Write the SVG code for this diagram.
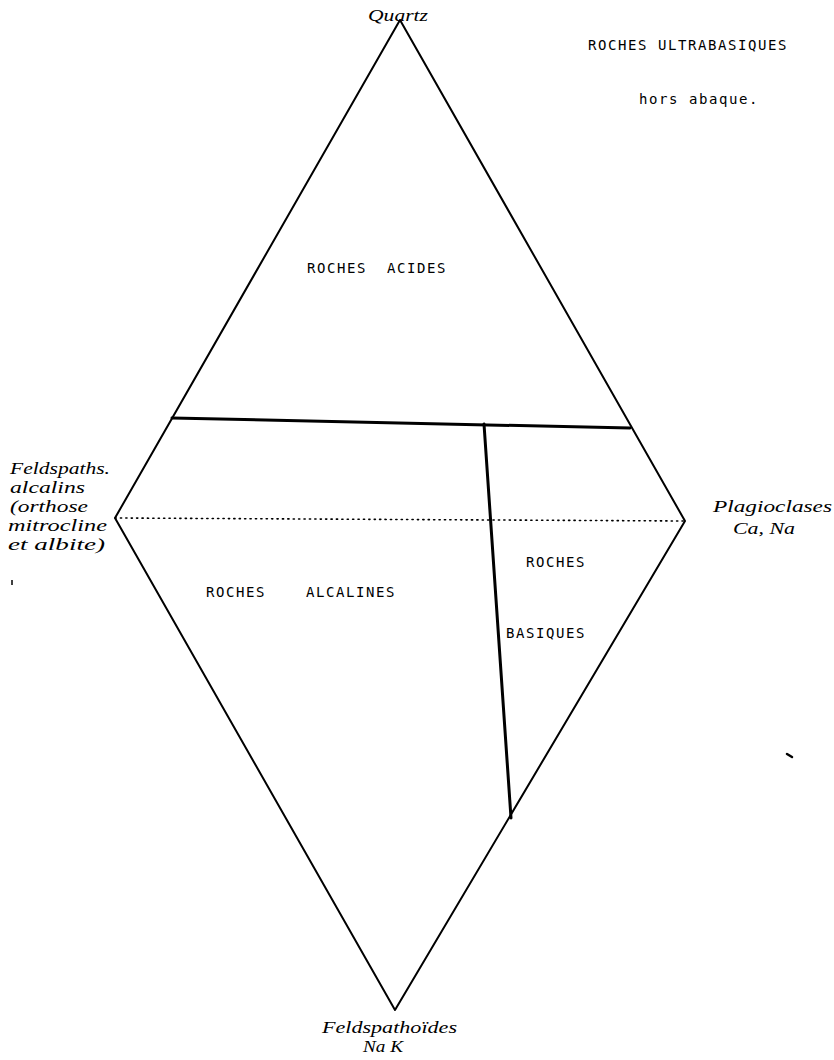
<svg xmlns="http://www.w3.org/2000/svg" width="834" height="1060" viewBox="0 0 834 1060">
<style>
.edge{fill:none;stroke:#000;stroke-width:2;stroke-linecap:round;stroke-linejoin:round}
.div{fill:none;stroke:#000;stroke-width:3;stroke-linecap:round}
.dot{fill:none;stroke:#000;stroke-width:1.6;stroke-dasharray:1.2 4.2;stroke-linecap:round}
.tw{font-family:"DejaVu Sans Mono","Liberation Mono",monospace;font-size:14px;letter-spacing:1.57px;fill:#000}
.hw{font-family:"Liberation Serif","DejaVu Serif",serif;font-style:italic;font-size:17px;fill:#000}
</style>
<rect width="834" height="1060" fill="#fff"/>
<g id="connectors">
<path class="edge" d="M400,20 L115,518 L395,1010 L685,521 Z"/>
<line class="dot" x1="115" y1="518" x2="685" y2="521"/>
<line class="div" x1="172" y1="418" x2="630" y2="428"/>
<line class="div" x1="484" y1="424" x2="511" y2="818"/>
</g>
<g id="node-quartz"><text class="hw" x="368" y="21" textLength="60" lengthAdjust="spacingAndGlyphs">Quartz</text></g>
<g id="node-feldspaths">
<text class="hw" x="10" y="474" textLength="100" lengthAdjust="spacingAndGlyphs">Feldspaths.</text>
<text class="hw" x="10" y="493" textLength="75" lengthAdjust="spacingAndGlyphs">alcalins</text>
<text class="hw" x="10" y="512" textLength="78" lengthAdjust="spacingAndGlyphs">(orthose</text>
<text class="hw" x="8" y="531" textLength="99" lengthAdjust="spacingAndGlyphs">mitrocline</text>
<text class="hw" x="8" y="550" textLength="97" lengthAdjust="spacingAndGlyphs">et albite)</text>
</g>
<g id="node-plagioclases">
<text class="hw" x="713" y="512" textLength="119" lengthAdjust="spacingAndGlyphs">Plagioclases</text>
<text class="hw" x="733" y="534" textLength="62" lengthAdjust="spacingAndGlyphs">Ca, Na</text>
</g>
<g id="node-feldspathoides">
<text class="hw" x="322" y="1033" textLength="135" lengthAdjust="spacingAndGlyphs">Feldspathoïdes</text>
<text class="hw" x="363" y="1052" textLength="40" lengthAdjust="spacingAndGlyphs">Na K</text>
</g>
<g id="node-ultrabasiques">
<text class="tw" x="588" y="50">ROCHES ULTRABASIQUES</text>
<text class="tw" x="639" y="104">hors abaque.</text>
</g>
<g id="node-acides"><text class="tw" x="307" y="273" xml:space="preserve">ROCHES  ACIDES</text></g>
<g id="node-alcalines">
<text class="tw" x="206" y="597">ROCHES</text>
<text class="tw" x="306" y="597">ALCALINES</text>
</g>
<g id="node-basiques">
<text class="tw" x="526" y="567">ROCHES</text>
<text class="tw" x="506" y="638">BASIQUES</text>
</g>
<g id="marks">
<line x1="12" y1="580" x2="12" y2="585" stroke="#000" stroke-width="1.5"/>
<path d="M787,754 L792,757" stroke="#000" stroke-width="2.5" stroke-linecap="round"/>
</g>
</svg>
